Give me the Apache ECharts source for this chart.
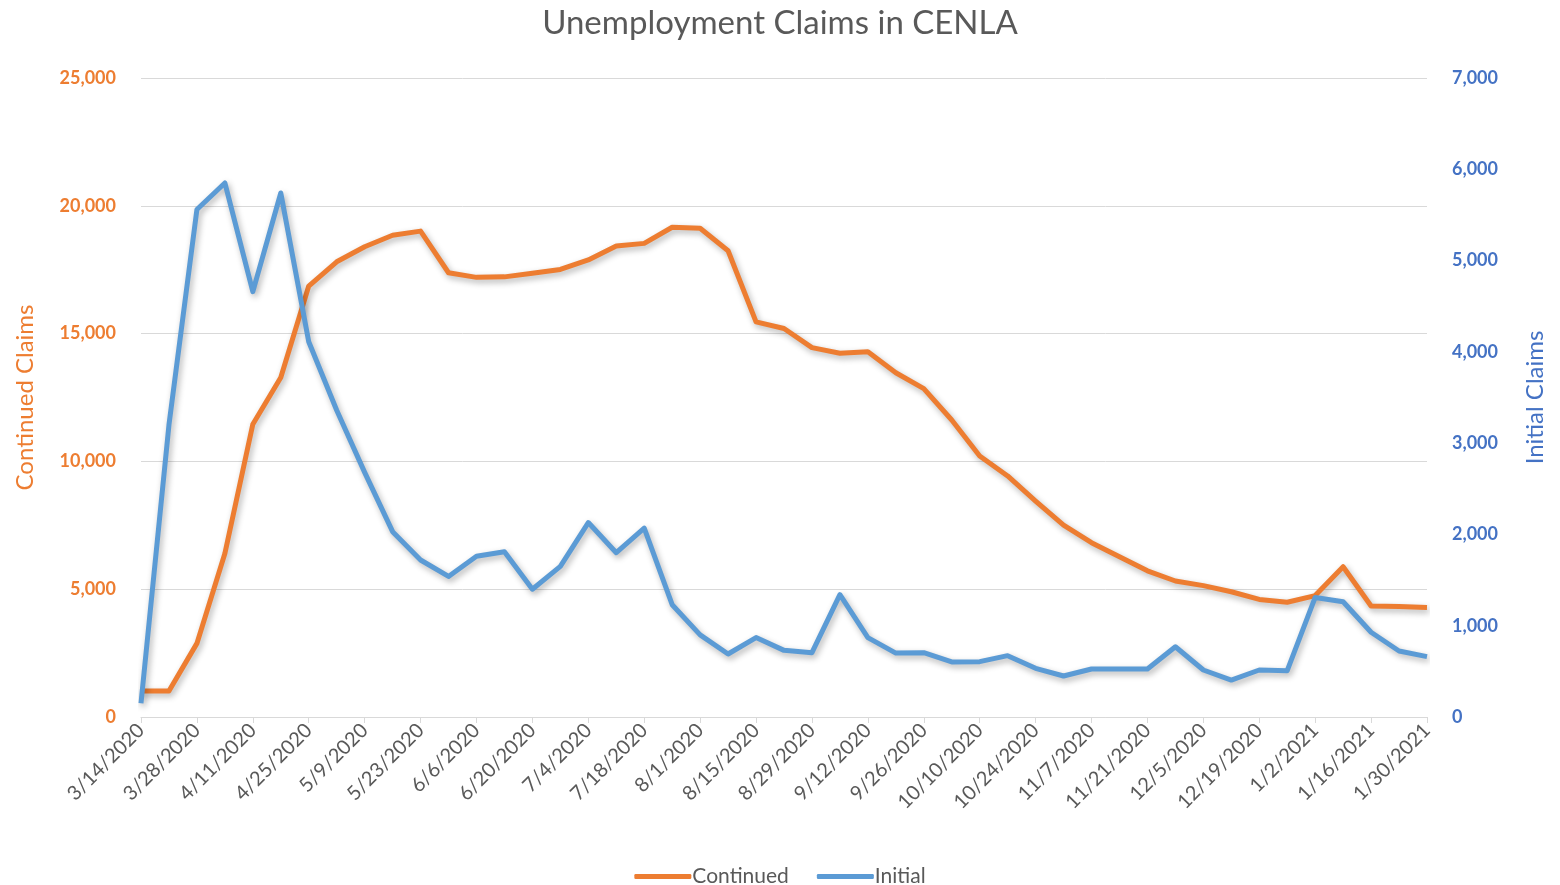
<!DOCTYPE html>
<html>
<head>
<meta charset="utf-8">
<title>Unemployment Claims in CENLA</title>
<script src="https://cdn.jsdelivr.net/npm/echarts@6/dist/echarts.min.js"></script>
<style>
  html, body { margin: 0; padding: 0; background: #fff; }
  #chart { width: 1560px; height: 885px; }
</style>
</head>
<body>
<div id="chart"></div>
<script>
const weeks = [
  '3/14/2020', '3/21/2020', '3/28/2020', '4/4/2020', '4/11/2020', '4/18/2020', '4/25/2020',
  '5/2/2020', '5/9/2020', '5/16/2020', '5/23/2020', '5/30/2020', '6/6/2020', '6/13/2020',
  '6/20/2020', '6/27/2020', '7/4/2020', '7/11/2020', '7/18/2020', '7/25/2020', '8/1/2020',
  '8/8/2020', '8/15/2020', '8/22/2020', '8/29/2020', '9/5/2020', '9/12/2020', '9/19/2020',
  '9/26/2020', '10/3/2020', '10/10/2020', '10/17/2020', '10/24/2020', '10/31/2020', '11/7/2020',
  '11/14/2020', '11/21/2020', '11/28/2020', '12/5/2020', '12/12/2020', '12/19/2020', '12/26/2020',
  '1/2/2021', '1/9/2021', '1/16/2021', '1/23/2021', '1/30/2021'
]

const continued = [
  1020, 1020, 2880, 6400, 11450, 13280, 16860, 17810, 18400, 18850, 19010, 17380,
  17200, 17220, 17360, 17510, 17880, 18430, 18530, 19160, 19120, 18240, 15460, 15200,
  14450, 14230, 14290, 13470, 12850, 11620, 10210, 9430, 8450, 7510, 6820, 6270,
  5720, 5320, 5140, 4900, 4600, 4490, 4750, 5880, 4340, 4320, 4280
]

const initial = [
  150, 3200, 5560, 5850, 4660, 5740, 4110, 3360, 2680, 2030, 1720, 1540,
  1760, 1810, 1400, 1650, 2130, 1800, 2070, 1230, 900, 690, 870, 730,
  705, 1340, 870, 700, 705, 603, 606, 672, 533, 449, 526, 526,
  526, 770, 515, 405, 515, 507, 1310, 1263, 928, 723, 661
]

const FONT = 'Lato, "Open Sans", sans-serif'
const ORANGE = '#ED7D31'
const BLUE = '#5B9BD5'
const BLUE_TEXT = '#4472C4'
const GREY = '#595959'

const chart = echarts.init(document.getElementById('chart'))

const lineShadow = {
  shadowColor: 'rgba(0, 0, 0, 0.3)',
  shadowBlur: 6,
  shadowOffsetX: 2,
  shadowOffsetY: 3
}

chart.setOption({
  backgroundColor: '#fff',
  animation: false,
  textStyle: { fontFamily: FONT },
  title: {
    text: 'Unemployment Claims in CENLA',
    left: 'center',
    top: 2,
    textStyle: { color: GREY, fontSize: 33, fontWeight: 'normal', fontFamily: FONT }
  },
  legend: {
    bottom: -7,
    left: 'center',
    icon: 'roundRect',
    itemWidth: 57,
    itemHeight: 5,
    itemGap: 28,
    textStyle: { color: GREY, fontSize: 21, padding: [0, 0, 0, -4] },
    data: ['Continued', 'Initial']
  },
  grid: {
    left: 141,
    right: 133,
    top: 78,
    bottom: 168
  },
  xAxis: {
    type: 'category',
    data: weeks,
    boundaryGap: false,
    axisLine: { lineStyle: { color: '#d9d9d9', width: 1 } },
    axisTick: { show: true, interval: 1, length: 6, lineStyle: { color: '#d9d9d9' } },
    axisLabel: {
      interval: 1,
      rotate: 45,
      margin: 10,
      color: GREY,
      fontSize: 20,
      fontFamily: FONT
    },
    splitLine: { show: false }
  },
  yAxis: [
    {
      type: 'value',
      name: 'Continued Claims',
      nameLocation: 'middle',
      nameGap: 104,
      nameTextStyle: { color: ORANGE, fontSize: 24, fontFamily: FONT },
      min: 0,
      max: 25000,
      interval: 5000,
      axisLine: { show: false },
      axisTick: { show: false },
      axisLabel: {
        color: ORANGE,
        fontSize: 18,
        fontWeight: 'bold',
        margin: 25,
        fontFamily: FONT,
        formatter: v => v.toLocaleString('en-US')
      },
      splitLine: { lineStyle: { color: '#d9d9d9', width: 1 } }
    },
    {
      type: 'value',
      name: 'Initial Claims',
      nameLocation: 'middle',
      nameGap: 96,
      nameRotate: 90,
      nameTextStyle: { color: BLUE_TEXT, fontSize: 24, fontFamily: FONT },
      min: 0,
      max: 7000,
      interval: 1000,
      position: 'right',
      axisLine: { show: false },
      axisTick: { show: false },
      axisLabel: {
        color: BLUE_TEXT,
        fontSize: 18,
        fontWeight: 'bold',
        margin: 25,
        fontFamily: FONT,
        formatter: v => v.toLocaleString('en-US')
      },
      splitLine: { show: false }
    }
  ],
  series: [
    {
      name: 'Continued',
      type: 'line',
      yAxisIndex: 0,
      data: continued,
      showSymbol: false,
      symbol: 'none',
      itemStyle: { color: ORANGE },
      lineStyle: Object.assign({ color: ORANGE, width: 5, join: 'round' }, lineShadow)
    },
    {
      name: 'Initial',
      type: 'line',
      yAxisIndex: 1,
      data: initial,
      showSymbol: false,
      symbol: 'none',
      itemStyle: { color: BLUE },
      lineStyle: Object.assign({ color: BLUE, width: 5, join: 'round' }, lineShadow)
    }
  ]
})
</script>
</body>
</html>
